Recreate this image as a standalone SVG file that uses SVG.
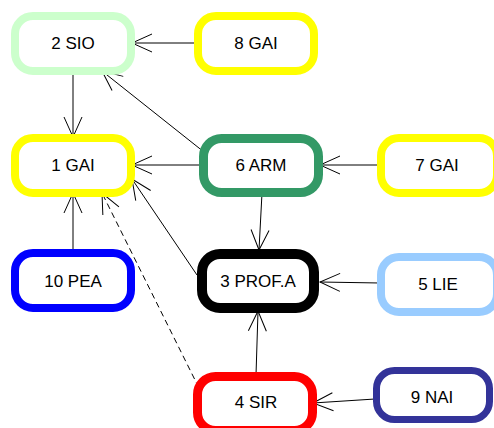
<svg xmlns="http://www.w3.org/2000/svg" width="494" height="428" viewBox="0 0 494 428">
<style>
.n rect{fill:#fff}
.n text{font-family:"Liberation Sans",Arial,sans-serif;font-size:17px;fill:#000;text-anchor:middle;dominant-baseline:central}
.e line{stroke:#000;stroke-width:1;fill:none;marker-end:url(#a)}
.d{stroke-dasharray:6 4}
</style>
<defs>
<marker id="a" markerUnits="userSpaceOnUse" orient="auto" refX="0" refY="0" markerWidth="24" markerHeight="24" viewBox="-22 -12 24 24" overflow="visible">
<path d="M-20,-9 L0,0 L-20,9" fill="none" stroke="#000" stroke-width="1"/>
</marker>
</defs>
<rect width="494" height="428" fill="#fff"/>
<g class="e">
<line x1="198" y1="43" x2="132" y2="43"/>
<line x1="73" y1="71" x2="73" y2="137"/>
<line x1="204" y1="152" x2="102" y2="71"/>
<line x1="203" y1="165" x2="132" y2="165"/>
<line x1="381" y1="165" x2="320" y2="165"/>
<line x1="262" y1="193" x2="259" y2="250"/>
<line x1="197" y1="275" x2="132" y2="179"/>
<line x1="73" y1="253" x2="73" y2="193"/>
<line class="d" x1="199" y1="388" x2="102" y2="193"/>
<line x1="256" y1="375" x2="258" y2="311"/>
<line x1="380" y1="283" x2="320" y2="282"/>
<line x1="375" y1="399" x2="313" y2="403"/>
</g>
<g id="n2" class="n"><rect x="15" y="16" width="116" height="55" rx="18" stroke="#ccffcc" stroke-width="8"/><text x="73" y="43">2 SIO</text></g>
<g id="n8" class="n"><rect x="198" y="16" width="116" height="55" rx="18" stroke="#ffff00" stroke-width="8"/><text x="256" y="43">8 GAI</text></g>
<g id="n1" class="n"><rect x="15" y="138" width="116" height="55" rx="18" stroke="#ffff00" stroke-width="8"/><text x="73" y="165">1 GAI</text></g>
<g id="n6" class="n"><rect x="203.5" y="138.5" width="115" height="54" rx="18" stroke="#339966" stroke-width="9"/><text x="261" y="165">6 ARM</text></g>
<g id="n7" class="n"><rect x="381" y="138" width="116" height="55" rx="18" stroke="#ffff00" stroke-width="8"/><text x="437" y="165">7 GAI</text></g>
<g id="n10" class="n"><rect x="15" y="253" width="116" height="55" rx="18" stroke="#0000ff" stroke-width="8"/><text x="73" y="281">10 PEA</text></g>
<g id="n3" class="n"><rect x="202" y="254" width="112" height="54" rx="18" stroke="#000000" stroke-width="10"/><text x="258" y="281">3 PROF.A</text></g>
<g id="n5" class="n"><rect x="381" y="257" width="116" height="55" rx="18" stroke="#99ccff" stroke-width="8"/><text x="438" y="284">5 LIE</text></g>
<g id="n4" class="n"><rect x="197.5" y="376.5" width="115" height="54" rx="18" stroke="#ff0000" stroke-width="9"/><text x="256" y="402">4 SIR</text></g>
<g id="n9" class="n"><rect x="376.5" y="370.5" width="113" height="49" rx="18" stroke="#333399" stroke-width="7"/><text x="432" y="397">9 NAI</text></g>
</svg>
